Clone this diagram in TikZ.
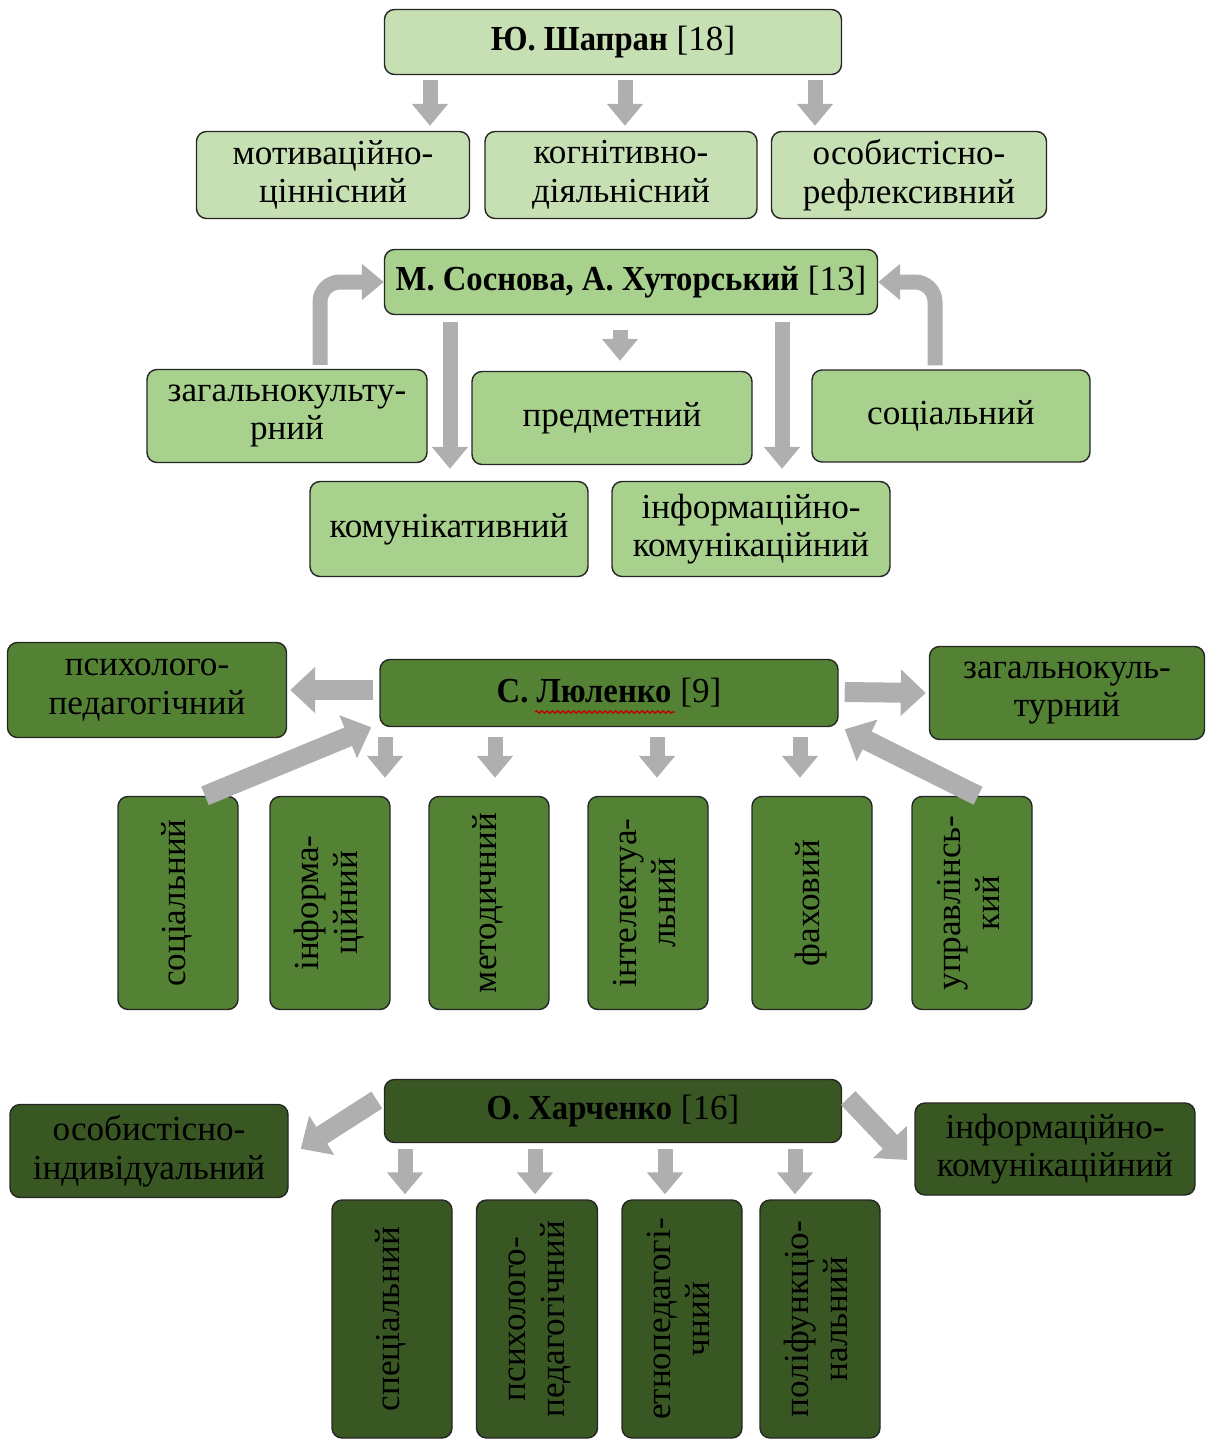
\documentclass[tikz,border=0pt]{standalone}
\usepackage{fontspec}
\setmainfont{Liberation Serif}[BoldFeatures={FakeStretch=0.93}]
\usepackage{graphicx}
\usepackage{xcolor}
\usetikzlibrary{arrows.meta, calc, decorations.pathmorphing}

\definecolor{paleGreen}{RGB}{198,224,180}
\definecolor{lightGreen}{RGB}{169,209,142}
\definecolor{midGreen}{RGB}{84,130,53}
\definecolor{deepGreen}{RGB}{56,87,35}
\definecolor{arrowGray}{RGB}{175,175,175}

\newcommand{\boxfont}{\fontsize{20}{22}\selectfont}
\newcommand{\vtext}[1]{\rotatebox{90}{\begin{tabular}{@{}c@{}}#1\end{tabular}}}

\tikzset{
	box/.style={draw=black!85, line width=0.8pt, rounded corners=0.2cm, align=center,
		inner sep=1pt, font=\boxfont, text=black},
	wh/.style 2 args={minimum width=#1*0.02cm, minimum height=#2*0.02cm},
	garrow/.style={draw=arrowGray, line width=0.3cm, -{Triangle[width=0.7cm, length=0.44cm]}},
	warrow/.style={draw=arrowGray, line width=0.4cm, -{Triangle[width=0.9cm, length=0.5cm]}},
}

\begin{document}
\begin{tikzpicture}[x=0.02cm, y=-0.02cm]
	\useasboundingbox (0, 0) rectangle (1207, 1440);

	% Ю. Шапран
	\begin{scope}[every node/.append style={box, fill=paleGreen}]
		\node[wh={457}{65}] (sh) at (613, 42) {\textbf{Ю. Шапран} [18]};

		\node[wh={273}{87}] (mot) at (333, 175) {мотиваційно-\\ціннісний};
		\node[wh={272}{87}] (kog) at (621, 175) {когнітивно-\\діяльнісний};
		\node[wh={275}{87}] (osb) at (909, 175) {особистісно-\\рефлексивний};
	\end{scope}

	\draw[garrow] ($(sh.south)+(-183, 5)$) -- ($(mot.north)+(97, -5)$);
	\draw[garrow] ($(sh.south)+(12, 5)$) -- ($(kog.north)+(4, -5)$);
	\draw[garrow] ($(sh.south)+(202, 5)$) -- ($(osb.north)+(-94, -5)$);

	% М. Соснова, А. Хуторський
	\begin{scope}[every node/.append style={box, fill=lightGreen}]
		\node[wh={493}{65}] (sos) at (631, 282) {\textbf{М. Соснова, А. Хуторський} [13]};

		\node[wh={280}{93}] (zag) at (287, 416) {загальнокульту-\\рний};
		\node[wh={280}{93}] (pred) at (612, 418) {предметний};
		\node[wh={278}{92}] (soc) at (951, 416) {соціальний};
		\node[wh={278}{95}] (kom) at (449, 529) {комунікативний};
		\node[wh={278}{95}] (ink) at (751, 529) {інформаційно-\\комунікаційний};
	\end{scope}

	\draw[garrow, rounded corners=0.4cm] ($(zag.north)+(33, -4)$) |- (sos.west);
	\draw[garrow, rounded corners=0.4cm] ($(soc.north)+(-16, -4)$) |- (sos.east);
	\draw[garrow] ($(sos.south)+(-181, 7)$) -- ($(kom.north)+(1, -12)$);
	\draw[garrow] ($(sos.south)+(151, 7)$) -- ($(ink.north)+(31, -12)$);
	\draw[garrow] ($(sos.south)+(-11, 15)$) -- ($(pred.north)+(8, -10)$);

	% С. Люленко
	\begin{scope}[every node/.append style={box, fill=midGreen}]
		\node[wh={458}{67}] (lyu) at (609, 693) {\textbf{С. Люленко} [9]};

		\node[wh={279}{95}] (psy) at (147, 690) {психолого-\\педагогічний};
		\node[wh={275}{93}] (zkl) at (1067, 693) {загальнокуль-\\турний};

		\node[wh={120}{213}] (soc3) at (178, 903) {\vtext{соціальний}};
		\node[wh={120}{213}] (inf3) at (330, 903) {\vtext{інформа-\\ційний}};
		\node[wh={120}{213}] (met3) at (489, 903) {\vtext{методичний}};
		\node[wh={120}{213}] (int3) at (648, 903) {\vtext{інтелектуа-\\льний}};
		\node[wh={120}{213}] (fax3) at (812, 903) {\vtext{фаховий}};
		\node[wh={120}{213}] (upr3) at (972, 903) {\vtext{управлінсь-\\кий}};
	\end{scope}

	\draw[red!75!black, line width=0.8pt, decorate, decoration={snake, amplitude=0.6pt, segment length=3pt}]
		($(lyu.center)+(-74, 19)$) -- ($(lyu.center)+(66, 19)$);

	\draw[warrow] ($(lyu.west)+(-6, -3)$) -- ($(psy.east)+(3, 0)$);
	\draw[warrow] ($(lyu.east)+(6, -1)$) -- ($(zkl.west)+(-3, 0)$);
	\draw[garrow] ($(lyu.south)+(-224, 10)$) -- ($(inf3.north)+(55, -18)$);
	\draw[garrow] ($(lyu.south)+(-114, 10)$) -- ($(met3.north)+(6, -18)$);
	\draw[garrow] ($(lyu.south)+(48, 10)$) -- ($(int3.north)+(9, -18)$);
	\draw[garrow] ($(lyu.south)+(191, 10)$) -- ($(fax3.north)+(-12, -18)$);
	\draw[warrow] ($(soc3.north)+(27, 0)$) -- ($(lyu.south west)+(-8, 0)$);
	\draw[warrow] ($(upr3.north)+(6, 0)$) -- ($(lyu.south east)+(6, 2)$);

	% О. Харченко
	\begin{scope}[every node/.append style={box, fill=deepGreen}]
		\node[wh={457}{63}] (har) at (613, 1111) {\textbf{О. Харченко} [16]};

		\node[wh={278}{93}] (osi) at (149, 1151) {особистісно-\\індивідуальний};
		\node[wh={280}{92}] (ikm) at (1055, 1149) {інформаційно-\\комунікаційний};

		\node[wh={120}{238}] (spec) at (392, 1319) {\vtext{спеціальний}};
		\node[wh={121}{238}] (psp) at (537, 1319) {\vtext{психолого-\\педагогічний}};
		\node[wh={120}{238}] (etn) at (682, 1319) {\vtext{етнопедагогі-\\чний}};
		\node[wh={120}{238}] (pol) at (820, 1319) {\vtext{поліфункціо-\\нальний}};
	\end{scope}

	\draw[garrow] ($(har.south)+(-208, 6)$) -- ($(spec.north)+(13, -5)$);
	\draw[garrow] ($(har.south)+(-78, 6)$) -- ($(psp.north)+(-2, -5)$);
	\draw[garrow] ($(har.south)+(52, 6)$) -- ($(etn.north)+(-17, -5)$);
	\draw[garrow] ($(har.south)+(182, 6)$) -- ($(pol.north)+(-25, -5)$);
	\draw[warrow] ($(har.west)+(-7, -11)$) -- ($(osi.north east)+(12, 45)$);
	\draw[warrow] ($(har.east)+(6, -13)$) -- ($(ikm.west)+(-7, 11)$);
\end{tikzpicture}
\end{document}
